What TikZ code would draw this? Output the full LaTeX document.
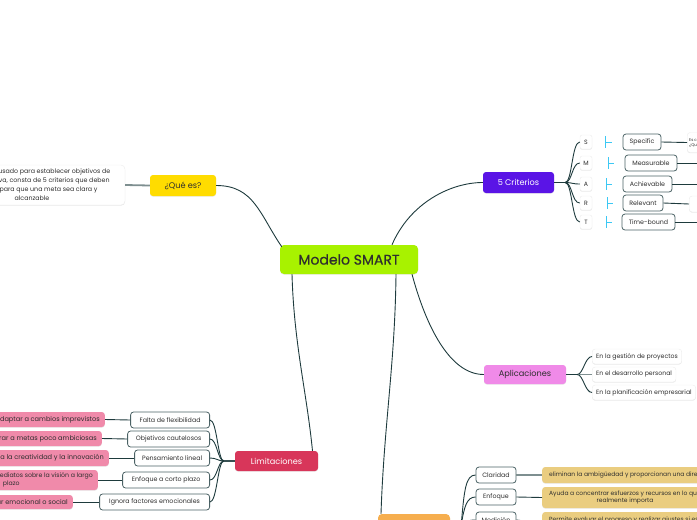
\documentclass[tikz,border=0pt]{standalone}
\usepackage{fontspec}
\setmainfont{Poppins}
\newfontfamily\medfont{Poppins}[FakeBold=0.6]
\usetikzlibrary{shadows}
\definecolor{clime}{HTML}{A8F200}
\definecolor{cyel}{HTML}{FFDC00}
\definecolor{cpurp}{HTML}{5A14E6}
\definecolor{cmag}{HTML}{F08AE8}
\definecolor{cred}{HTML}{D8365A}
\definecolor{cpink}{HTML}{F08AAA}
\definecolor{corange}{HTML}{F6AE4E}
\definecolor{ctan}{HTML}{EACD80}
\definecolor{cdark}{HTML}{1E3B3D}
\definecolor{cgray}{HTML}{7E8F90}
\definecolor{cborder}{HTML}{4B6265}
\definecolor{ctext}{HTML}{2E2E2E}
\definecolor{ccyan}{HTML}{3CC8F4}
\tikzset{
  soft/.style={drop shadow={shadow xshift=0pt,shadow yshift=-0.7pt,opacity=0.2}},
  conn/.style={draw=cdark,line width=0.9pt},
  gconn/.style={draw=cgray,line width=1.8pt},
  mainbox/.style={fill=clime,rounded corners=4pt,minimum width=138pt,minimum height=29pt,inner sep=0pt,text=ctext,font=\medfont\fontsize{14}{16}\selectfont,soft},
  topic/.style={rounded corners=3pt,minimum height=20pt,inner sep=0pt,font=\fontsize{8.2}{9}\selectfont,soft},
  leaf/.style={draw=cborder,line width=0.8pt,fill=white,rounded corners=3pt,minimum height=16pt,inner xsep=3pt,inner ysep=0pt,text=ctext,font=\fontsize{6.3}{7}\selectfont},
  note/.style={fill=white,draw=black!7,line width=0.4pt,rounded corners=3pt,inner xsep=4pt,inner ysep=0pt,minimum height=15pt,text=ctext,font=\fontsize{6.2}{7}\selectfont,soft},
  letter/.style={fill=white,draw=black!7,line width=0.4pt,rounded corners=2pt,minimum width=12pt,minimum height=14pt,inner sep=0pt,text=ctext,font=\fontsize{6.2}{7}\selectfont,soft},
  pinkbox/.style={fill=cpink,rounded corners=3pt,inner xsep=5pt,inner ysep=0pt,minimum height=15pt,text=ctext,align=center,font=\fontsize{6.6}{8}\selectfont,soft},
  tanbox/.style={fill=ctan,rounded corners=3pt,inner xsep=7pt,inner ysep=0pt,minimum height=16pt,text=ctext,align=center,font=\fontsize{6}{7.5}\selectfont,soft},
  cmark/.style={draw=ccyan,line width=0.9pt}
}
\begin{document}
\begin{tikzpicture}[x=1pt,y=-1pt]
\useasboundingbox (0,0) rectangle (697,520);
\clip (0,0) rectangle (697,520);

% central
\node[mainbox] (c) at (349,259.5) {Modelo SMART};

% Que es
\node[topic,fill=cyel,text=ctext,minimum width=66pt,minimum height=21pt] (que) at (183,185.5) {¿Qué es?};
\node[fill=white,draw=black!7,line width=0.4pt,rounded corners=4pt,minimum width=186pt,minimum height=40pt,inner sep=0pt,align=center,text=ctext,font=\fontsize{6.3}{9}\selectfont,soft] (desc) at (32,185)
  {Es un método usado para establecer objetivos de\\manera efectiva, consta de 5 criterios que deben\\cumplirse para que una meta sea clara y\\alcanzable};

% 5 criterios
\node[topic,fill=cpurp,text=white,minimum width=71pt,minimum height=21pt] (crit) at (518.5,182.5) {5 Criterios};
\node[letter] (ls) at (586,142) {S};
\node[letter] (lm) at (586,163) {M};
\node[letter] (la) at (586,184) {A};
\node[letter] (lr) at (586,203) {R};
\node[letter] (lt) at (586,222) {T};

\node[leaf,minimum width=38pt] (spec) at (642,142) {Specific};
\node[leaf,minimum width=52pt] (meas) at (651,163) {Measurable};
\node[leaf,minimum width=49pt] (achi) at (647.5,184) {Achievable};
\node[leaf,minimum width=40pt] (rele) at (643,203) {Relevant};
\node[leaf,minimum width=53pt] (time) at (648.5,222) {Time-bound};

\node[fill=white,draw=black!7,line width=0.4pt,rounded corners=3pt,minimum width=36pt,minimum height=20pt,inner xsep=2pt,inner ysep=0pt,align=left,anchor=west,text=ctext,font=\fontsize{4}{5}\selectfont,soft] (specd) at (687,142.5) {Es claro y preciso\\¿Qué se quiere?};
\node[fill=white,draw=black!7,line width=0.4pt,rounded corners=3pt,minimum width=36pt,minimum height=16pt,inner sep=0pt,anchor=west,soft] (reled) at (689,204) {};
\coordinate (mend) at (705,163);
\coordinate (aend) at (705,184);
\coordinate (tend) at (705,222);

% Aplicaciones
\node[topic,fill=cmag,text=ctext,minimum width=82pt,minimum height=19pt] (apl) at (525,374.5) {Aplicaciones};
\node[note,anchor=west] (ap1) at (592,356.5) {En la gestión de proyectos};
\node[note,anchor=west] (ap2) at (592,374.5) {En el desarrollo personal};
\node[note,anchor=west] (ap3) at (592,392.5) {En la planificación empresarial};

% Limitaciones
\node[topic,fill=cred,text=white,minimum width=83pt,minimum height=20pt] (lim) at (276.5,461) {Limitaciones};
\node[leaf,anchor=east,minimum width=79pt] (l1) at (210,420) {Falta de flexibilidad};
\node[leaf,anchor=east,minimum width=82pt] (l2) at (210,439) {Objetivos cautelosos};
\node[leaf,anchor=east,minimum width=75pt] (l3) at (210,458) {Pensamiento lineal};
\node[leaf,anchor=east,minimum width=87pt] (l4) at (210,480) {Enfoque a corto plazo};
\node[leaf,anchor=east,minimum width=110pt] (l5) at (210,502) {Ignora factores emocionales};

\node[pinkbox,anchor=east] (p1) at (105,419.5) {Dificultad para adaptar a cambios imprevistos};
\node[pinkbox,anchor=east] (p2) at (102,438.5) {Puede llevar a aspirar a metas poco ambiciosas};
\node[pinkbox,anchor=east,minimum height=16pt] (p3) at (109,458) {Limita la creatividad y la innovación};
\node[pinkbox,anchor=east,minimum height=20pt,font=\fontsize{6.2}{7.5}\selectfont] (p4) at (98,480) {Prioriza resultados inmediatos sobre la visión a largo\\plazo};
\node[pinkbox,anchor=east,minimum height=14pt] (p5) at (73,502) {No considera el bienestar emocional o social};

% bottom branch
\node[fill=corange,rounded corners=4pt,minimum width=72pt,minimum height=22pt,inner sep=0pt,soft] (ben) at (414,525) {};
\node[leaf,minimum width=40pt] (b1) at (496,475) {Claridad};
\node[leaf,minimum width=40pt] (b2) at (496,497) {Enfoque};
\node[leaf,minimum width=40pt] (b3) at (496,520) {Medición};
\node[tanbox,anchor=west] (t1) at (542,475) {eliminan la ambigüedad y proporcionan una dirección clara};
\node[tanbox,anchor=west,minimum height=21pt] (t2) at (542,497.5) {Ayuda a concentrar esfuerzos y recursos en lo que\\realmente importa};
\node[tanbox,anchor=west,minimum height=22pt] (t3) at (542,523) {Permite evaluar el progreso y realizar ajustes si es\\necesario};

% connectors from central
\draw[conn] (que.east) .. controls +(38,0) and +(-22,-32) .. ([xshift=2pt,yshift=-2pt]c.north west);
\draw[gconn] (que.west) -- (desc.east);
\draw[conn] ([xshift=43pt]c.north) .. controls +(18,-42) and +(-32,0) .. (crit.west);
\draw[conn] ([xshift=-57pt]c.south) .. controls +(2,70) and +(-6,-60) .. ([xshift=36pt]lim.north);
\draw[conn] ([xshift=47pt]c.south) .. controls +(-1,90) and +(3,-90) .. ([xshift=-33pt]ben.north);
\draw[conn] ([xshift=63pt]c.south) .. controls +(14,52) and +(-34,0) .. (apl.west);

% criterios branches
\foreach \n in {ls,lm,la,lr,lt}{
  \draw[conn] (crit.east) -- ++(11,0) .. controls +(7,0) and +(-8,0) .. (\n.west);
}
\draw[cmark] (605,136) -- (605,148) (605,142) -- (612,142);
\draw[cmark] (608,157) -- (608,169) (608,163) -- (614,163);
\draw[cmark] (606,178) -- (606,190) (606,184) -- (612,184);
\draw[cmark] (607,197) -- (607,209) (607,203) -- (613,203);
\draw[cmark] (606,216) -- (606,228) (606,222) -- (612,222);

\draw[conn] (spec.east) -- (specd.west);
\draw[conn] (meas.east) -- (mend);
\draw[conn] (achi.east) -- (aend);
\draw[conn] (rele.east) -- (reled.west);
\draw[conn] (time.east) -- (tend);

% aplicaciones branches
\draw[conn] (apl.east) -- ++(11,0) .. controls +(6,0) and +(-7,0) .. (ap1.west);
\draw[gconn] (apl.east) -- ++(11,0) -- (ap2.west);
\draw[conn] (apl.east) -- ++(11,0) .. controls +(6,0) and +(-7,0) .. (ap3.west);

% limitaciones branches
\foreach \n in {l1,l2,l3,l4,l5}{
  \draw[conn] (lim.west) -- ++(-11,0) .. controls +(-6,0) and +(7,0) .. (\n.east);
}
\draw[conn] (l1.west) -- (p1.east);
\draw[conn] (l2.west) -- (p2.east);
\draw[conn] (l3.west) -- (p3.east);
\draw[conn] (l4.west) -- (p4.east);
\draw[conn] (l5.west) -- (p5.east);

% bottom branches
\draw[conn] (ben.east) -- ++(11,0) .. controls +(3,-35) and +(-10,0) .. (b1.west);
\draw[conn] (ben.east) -- ++(11,0) .. controls +(3,-18) and +(-9,0) .. (b2.west);
\draw[conn] (ben.east) -- ++(11,0) .. controls +(3,-3) and +(-8,0) .. (b3.west);
\draw[gconn] (b1.east) -- (t1.west);
\draw[conn] (b2.east) -- (t2.west);
\draw[conn] (b3.east) -- (t3.west);
\end{tikzpicture}
\end{document}
